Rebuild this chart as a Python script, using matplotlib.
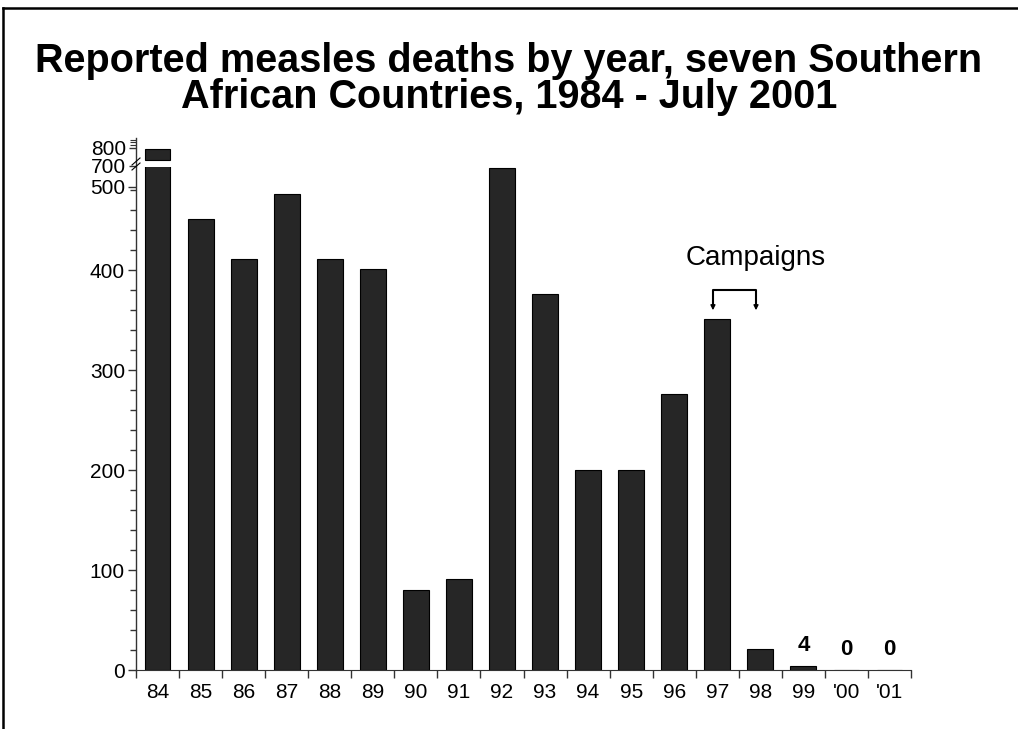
import numpy as np
import matplotlib
matplotlib.use('Agg')
import matplotlib.pyplot as plt
from matplotlib.ticker import FixedLocator
from matplotlib.lines import Line2D

plt.rcParams['font.family'] = ['Liberation Sans', 'DejaVu Sans']

years = ['84', '85', '86', '87', '88', '89', '90', '91', '92', '93',
         '94', '95', '96', '97', '98', '99', "'00", "'01"]
deaths = [793, 451, 411, 476, 411, 401, 80, 91, 502, 376,
          200, 200, 276, 351, 21, 4, 0, 0]
labelled = ['99', "'00", "'01"]
campaign_years = ['97', '98']

# the original axis squeezes 400-500 and breaks above it
lower_ticks = [0, 100, 200, 300, 400, 483]
lower_tick_labels = ['0', '100', '200', '300', '400', '500']
upper_ticks = [700, 800]

bar_color = '#262626'
axis_color = '#333333'
x = np.arange(len(years))

fig = plt.figure(figsize=(10.18, 7.29), dpi=100)
W, H = 1018, 729

def frac(px_left, px_top, px_right, px_bottom):
    return [px_left / W, 1 - px_bottom / H, (px_right - px_left) / W, (px_bottom - px_top) / H]

ax = fig.add_axes(frac(136, 167, 911, 670))
ax_top = fig.add_axes(frac(136, 138, 911, 166), sharex=ax)

lower_max = 503
upper_lim = (698, 855)
upper_gap_bottom = 732

ax.bar(x, deaths, width=0.6, color=bar_color, edgecolor='black', linewidth=0.8)
top_vals = np.array([d if d > lower_max else np.nan for d in deaths], dtype=float)
ax_top.bar(x, top_vals - upper_gap_bottom, bottom=upper_gap_bottom, width=0.6,
           color=bar_color, edgecolor='black', linewidth=0.8)

ax.set_xlim(-0.5, len(years) - 0.5)
ax.set_ylim(0, lower_max)
ax_top.set_ylim(*upper_lim)

for a in (ax, ax_top):
    for s in ('top', 'right'):
        a.spines[s].set_visible(False)
    a.spines['left'].set_color(axis_color)
    a.spines['left'].set_linewidth(1.0)
ax_top.spines['bottom'].set_visible(False)
ax.spines['bottom'].set_color(axis_color)

ax.set_yticks(lower_ticks)
ax.set_yticklabels(lower_tick_labels)
ax.yaxis.set_minor_locator(FixedLocator(np.arange(20, 481, 20)))
ax_top.set_yticks(upper_ticks)
ax_top.yaxis.set_minor_locator(FixedLocator([815, 830, 845]))
ax.tick_params(axis='y', which='major', length=6, width=1, labelsize=15, pad=2, color=axis_color)
ax.tick_params(axis='y', which='minor', length=4, width=1, color=axis_color)
ax_top.tick_params(axis='y', which='major', length=5, width=1, labelsize=15, pad=2, color=axis_color)
ax_top.tick_params(axis='y', which='minor', length=4, width=0.8, color=axis_color)
ax_top.tick_params(axis='x', which='both', bottom=False, labelbottom=False)

# x ticks at category boundaries, labels at centres
ax.set_xticks(x)
ax.set_xticklabels(years)
ax.tick_params(axis='x', which='major', length=0, labelsize=15, pad=9)
ax.set_xticks(np.arange(len(years) + 1) - 0.5, minor=True)
ax.tick_params(axis='x', which='minor', length=6, width=1, color=axis_color)

# value labels
for yr in labelled:
    i = years.index(yr)
    ax.text(i, deaths[i] + 10, str(deaths[i]), ha='center', va='bottom',
            fontsize=16, fontweight='bold')

# axis break marks
for dy in (0, 5):
    fig.add_artist(Line2D([132 / W, 140 / W], [1 - (170 - dy) / H, 1 - (163 - dy) / H],
                          color='black', linewidth=0.8))

# campaigns bracket
i0, i1 = years.index(campaign_years[0]), years.index(campaign_years[1])
y_br, y_tip = 380, 357
x0, x1 = i0 - 0.1, i1 - 0.1
ax.plot([x0, x0, x1, x1], [y_tip + 8, y_br, y_br, y_tip + 8], color='black', linewidth=1.5)
for xx in (x0, x1):
    ax.annotate('', xy=(xx, y_tip), xytext=(xx, y_tip + 10),
                arrowprops=dict(arrowstyle='-|>', color='black', lw=1, mutation_scale=7))
ax.text((x0 + x1) / 2 + 0.5, 412, 'Campaigns', ha='center', va='center', fontsize=20)

fig.text(0.5, 1 - 61 / H, 'Reported measles deaths by year, seven Southern',
         ha='center', va='center', fontsize=28.5, fontweight='bold')
fig.text(0.5, 1 - 97 / H, 'African Countries, 1984 - July 2001',
         ha='center', va='center', fontsize=28.5, fontweight='bold')

# slide frame
fig.add_artist(Line2D([3 / W, 3 / W], [0, 1 - 8 / H], color='black', linewidth=1.8))
fig.add_artist(Line2D([3 / W, 1], [1 - 8 / H, 1 - 8 / H], color='black', linewidth=1.8))

fig.savefig('out.png', dpi=100)
